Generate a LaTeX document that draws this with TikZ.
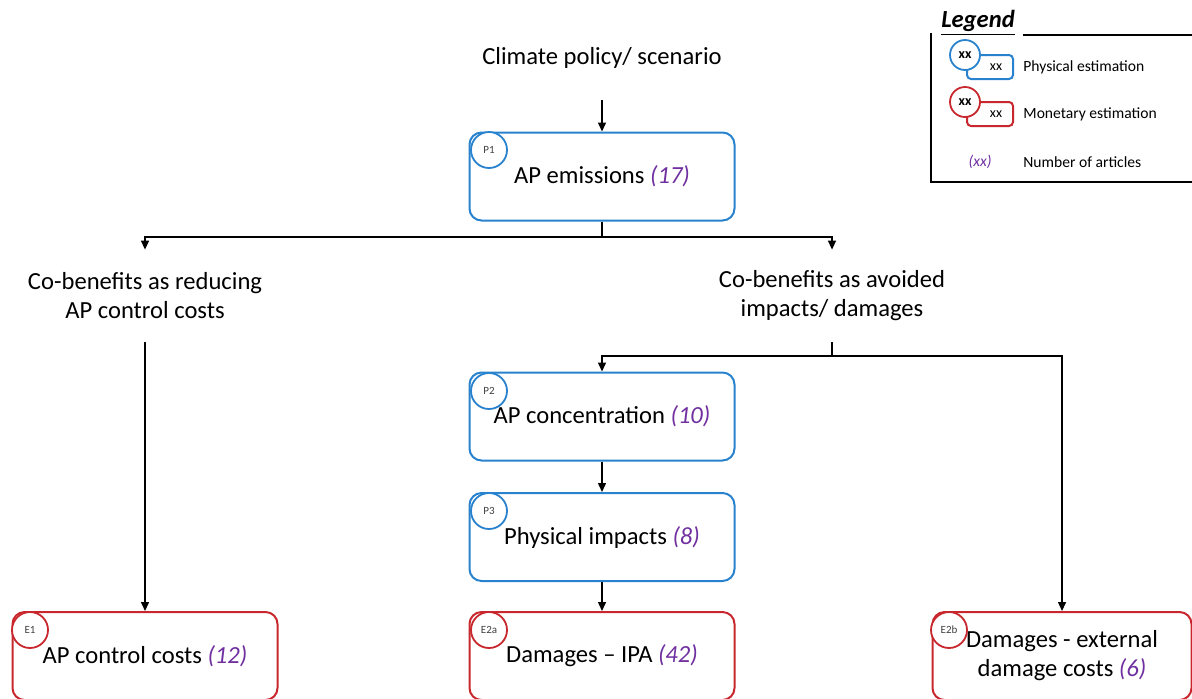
\documentclass[tikz,border=0pt]{standalone}
\usepackage{fontspec}
\setmainfont{Carlito}
\usepackage{tikz}
\usetikzlibrary{arrows.meta,positioning}
\definecolor{physblue}{RGB}{40,130,205}
\definecolor{monred}{RGB}{200,40,45}
\definecolor{cntpurple}{RGB}{112,48,160}
\newcommand{\cnt}[1]{\textcolor{cntpurple}{\textit{(#1)}}}

\begin{document}
\begin{tikzpicture}[
  x=0.5pt, y=-0.5pt,
  font=\fontsize{12.3}{14.5}\selectfont,
  box/.style={draw=#1, line width=1pt, fill=white, rounded corners=6pt, align=center,
              minimum width=132.5pt, minimum height=44pt, inner sep=2pt},
  box/.default=physblue,
  tag/.style={draw=#1, line width=0.9pt, fill=white, circle, minimum size=18pt, inner sep=0pt,
              font=\fontsize{5.5}{6}\selectfont, text=black!75},
  tag/.default=physblue,
  lbl/.style={align=center, minimum height=46pt, inner sep=0pt},
  arr/.style={-{Triangle[length=4.5pt,width=4pt]}, line width=0.7pt},
  wire/.style={line width=0.7pt},
  legtxt/.style={font=\fontsize{7.8}{9}\selectfont, anchor=west, inner sep=0pt}]
 \path[use as bounding box, clip] (0,0) rectangle (1192,698);
 % policy and emissions
 \node (clim) at (602,58) {Climate policy/ scenario};
 \coordinate (c0) at (602,100);
 \node[box] (p1) at (602,176.5) {AP emissions \cnt{17}};
 \node[tag] (p1t) at (489,150) {P1};
 % two ways of counting co-benefits
 \node[lbl] (cbl) at (145,296) {Co-benefits as reducing\\AP control costs};
 \node[lbl] (cbr) at (832,296) {Co-benefits as avoided\\impacts/ damages};
 \coordinate (s1) at (602,237);
 \coordinate (s2) at (832,356);
 % impact pathway
 \node[box] (p2) at (602,416.5) {AP concentration \cnt{10}};
 \node[tag] (p2t) at (489,391) {P2};
 \node[box] (p3) at (602,537) {Physical impacts \cnt{8}};
 \node[tag] (p3t) at (489,511) {P3};
 % monetary estimations
 \node[box=monred] (e1) at (145,656) {AP control costs \cnt{12}};
 \node[tag=monred] (e1t) at (30,630) {E1};
 \node[box=monred] (e2a) at (602,656) {Damages -- IPA \cnt{42}};
 \node[tag=monred] (e2at) at (489,630) {E2a};
 \node[box=monred, minimum width=129.5pt] (e2b) at (1062,656) {Damages - external\\damage costs \cnt{6}};
 \node[tag=monred] (e2bt) at (949,630) {E2b};
 \draw[arr] (c0) -- (p1);
 \draw[wire] (p1) -- (s1);
 \draw[arr] (s1) -| (cbl);
 \draw[arr] (s1) -| (cbr);
 \draw[arr] (cbl) -- (e1);
 \draw[wire] (cbr) -- (s2);
 \draw[arr] (s2) -| (p2);
 \draw[arr] (s2) -| (e2b);
 \draw[arr] (p2) -- (p3);
 \draw[arr] (p3) -- (e2a);
 % legend
 \node[font=\fontsize{12.3}{14}\selectfont\bfseries\itshape] (leg) at (978,23) {\underline{Legend}};
 \draw[line width=0.6pt] (1023,35) -- (1200,35);
 \draw[line width=0.6pt] (931,33) -- (931,182) -- (1200,182);
 \node[draw=physblue, line width=1pt, rounded corners=2pt, minimum width=23pt, minimum height=12pt,
       inner sep=0pt, font=\fontsize{7}{8}\selectfont] (legpr) at (990,67) {\hspace{6pt}xx};
 \node[tag, minimum size=15pt, font=\fontsize{7}{8}\selectfont\bfseries, text=black] (legpc) at (965,55) {xx};
 \node[legtxt] (legp) at (1023,67) {Physical estimation};
 \node[draw=monred, line width=1pt, rounded corners=2pt, minimum width=23pt, minimum height=12pt,
       inner sep=0pt, font=\fontsize{7}{8}\selectfont] (legmr) at (990,114) {\hspace{6pt}xx};
 \node[tag=monred, minimum size=15pt, font=\fontsize{7}{8}\selectfont\bfseries, text=black] (legmc) at (965,102) {xx};
 \node[legtxt] (legm) at (1023,114) {Monetary estimation};
 \node[font=\fontsize{7.8}{9}\selectfont] (legnc) at (980,162) {\cnt{xx}};
 \node[legtxt] (legn) at (1023,162) {Number of articles};
\end{tikzpicture}
\end{document}
